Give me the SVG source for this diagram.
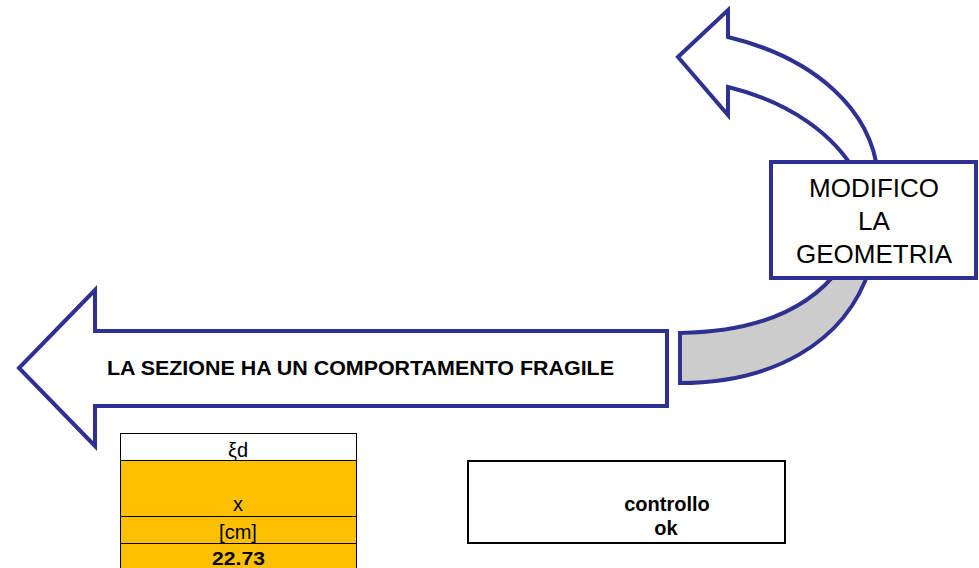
<svg xmlns="http://www.w3.org/2000/svg" width="979" height="568" viewBox="0 0 979 568">
<style>
.arr{stroke:#2e3192;stroke-width:4;stroke-linejoin:miter}
.t{font-family:"Liberation Sans",Arial,sans-serif;fill:#000}
.b{font-weight:bold}
.cell{fill:#ffc000;stroke:#000;stroke-width:1}
</style>
<rect width="979" height="568" fill="#fff"/>
<g id="connectors">
<path id="curved-arrow-under" class="arr" fill="#cccccc" d="M680,333 C745,332 805,315 840,268 L870,268 C845,345 770,383 680,383 Z"/>
<path id="curved-arrow-over" class="arr" fill="#fff" d="M878,175 C872,110 815,58 728,37 L728,10 L678,57 L728,115 L728,87 C790,102 835,135 857,175 Z"/>
</g>
<g id="node-fragile">
<path class="arr" fill="#fff" d="M667,331 L95,331 L95,290 L19,368 L95,446 L95,406 L667,406 Z"/>
<text class="t b" x="107" y="375" font-size="20" textLength="507" lengthAdjust="spacingAndGlyphs">LA SEZIONE HA UN COMPORTAMENTO FRAGILE</text>
</g>
<g id="node-modifico">
<rect class="arr" fill="#fff" x="771" y="162" width="205" height="116"/>
<text class="t" font-size="26" text-anchor="middle"><tspan x="874" y="197">MODIFICO</tspan><tspan x="874" y="230">LA</tspan><tspan x="874" y="263">GEOMETRIA</tspan></text>
</g>
<g id="node-table">
<rect x="120.5" y="433.5" width="236" height="27" fill="#fff" stroke="#000" stroke-width="1"/>
<rect class="cell" x="120.5" y="460.5" width="236" height="56"/>
<rect class="cell" x="120.5" y="516.5" width="236" height="27"/>
<rect class="cell" x="120.5" y="543.5" width="236" height="30"/>
<text class="t" font-size="20" text-anchor="middle" x="238" y="457">ξd</text>
<text class="t" font-size="20" text-anchor="middle" x="238" y="511">x</text>
<text class="t" font-size="20" text-anchor="middle" x="238" y="539">[cm]</text>
<text class="t b" font-size="19" x="212" y="565" textLength="53" lengthAdjust="spacingAndGlyphs">22.73</text>
</g>
<g id="node-controllo">
<rect x="468" y="461" width="317" height="82" fill="#fff" stroke="#000" stroke-width="2"/>
<text class="t b" font-size="20" text-anchor="middle" x="667" y="511">controllo</text>
<text class="t b" font-size="20" text-anchor="middle" x="666" y="535">ok</text>
</g>
</svg>
